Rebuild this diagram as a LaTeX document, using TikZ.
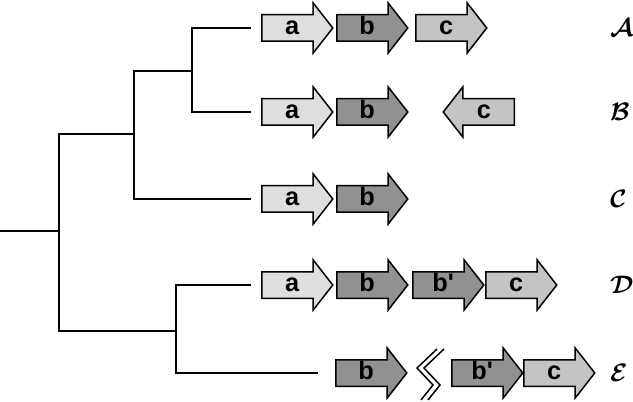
\documentclass[tikz,border=0pt]{standalone}
\usepackage{amsmath, amssymb}
\usepackage{fontspec}
\setsansfont{Liberation Sans}
\usepackage{xcolor}
\usetikzlibrary{positioning}
\usetikzlibrary{shapes.arrows}

\definecolor{geneA}{gray}{0.87}
\definecolor{geneB}{gray}{0.57}
\definecolor{geneC}{gray}{0.77}

\begin{document}
\begin{tikzpicture}[
                x=0.2mm, y=-0.2mm,
                gene/.style = {single arrow, draw, line width=0.3mm, anchor=tail,
                    single arrow head extend=2.4mm, single arrow tip angle=104,
                    minimum height=14.2mm, inner xsep=0pt, inner ysep=0pt,
                    text height=3.8mm, text depth=1.2mm,
                    font=\sffamily\bfseries\Large},
                branch/.style = {line width=0.4mm},
                % Stile per le etichette delle specie
                taxon/.style = {font=\Large\boldmath, anchor=west}
                ]
                \useasboundingbox (0,0) rectangle (633,402);

                % --- Albero ---
                \coordinate (r)  at (0,231);
                \coordinate (u0) at (59,231);
                \coordinate (p1) at (134,134);
                \coordinate (p2) at (192,71);
                \coordinate (p3) at (176,331);
                \coordinate (lA) at (251,28);
                \coordinate (lB) at (251,112);
                \coordinate (lC) at (251,199);
                \coordinate (lD) at (251,285);
                \coordinate (lE) at (318,373);

                \draw[branch] (r) -- (u0);
                \draw[branch] (p1) -| (u0);
                \draw[branch] (p3) -| (u0);
                \draw[branch] (p2) -| (p1);
                \draw[branch] (lC) -| (p1);
                \draw[branch] (lA) -| (p2);
                \draw[branch] (lB) -| (p2);
                \draw[branch] (lD) -| (p3);
                \draw[branch] (lE) -| (p3);

                % --- Geni ---
                \node[gene, fill=geneA] (aA) at (261,28) {a};
                \node[gene, fill=geneB] (bA) at (336,28) {b};
                \node[gene, fill=geneC] (cA) at (415,28) {c};

                \node[gene, fill=geneA] (aB) at (261,112) {a};
                \node[gene, fill=geneB] (bB) at (336,112) {b};
                \node[gene, fill=geneC, shape border rotate=180] (cB) at (515,112) {c};

                \node[gene, fill=geneA] (aC) at (261,199) {a};
                \node[gene, fill=geneB] (bC) at (336,199) {b};

                \node[gene, fill=geneA] (aD) at (261,285) {a};
                \node[gene, fill=geneB] (bD) at (336,285) {b};
                \node[gene, fill=geneB] (b2D) at (412,285) {b\textquotesingle};
                \node[gene, fill=geneC] (cD) at (485,285) {c};

                \node[gene, fill=geneB] (bE) at (335,373) {b};
                \node[gene, fill=geneB] (b2E) at (451,373) {b\textquotesingle};
                \node[gene, fill=geneC] (cE) at (523,373) {c};

                % --- Interruzione ---
                \foreach \dx in {0,7} {
                    \draw[line width=0.3mm] (437+\dx,349) -- (417+\dx,368) -- (433+\dx,385) -- (421+\dx,400);
                }

                % --- Etichette ---
                \node[taxon] (tA) at (604,28) {$\mathcal{A}$};
                \node[taxon] (tB) at (604,112) {$\mathcal{B}$};
                \node[taxon] (tC) at (604,199) {$\mathcal{C}$};
                \node[taxon] (tD) at (604,285) {$\mathcal{D}$};
                \node[taxon] (tE) at (604,373) {$\mathcal{E}$};

            \end{tikzpicture}
\end{document}
